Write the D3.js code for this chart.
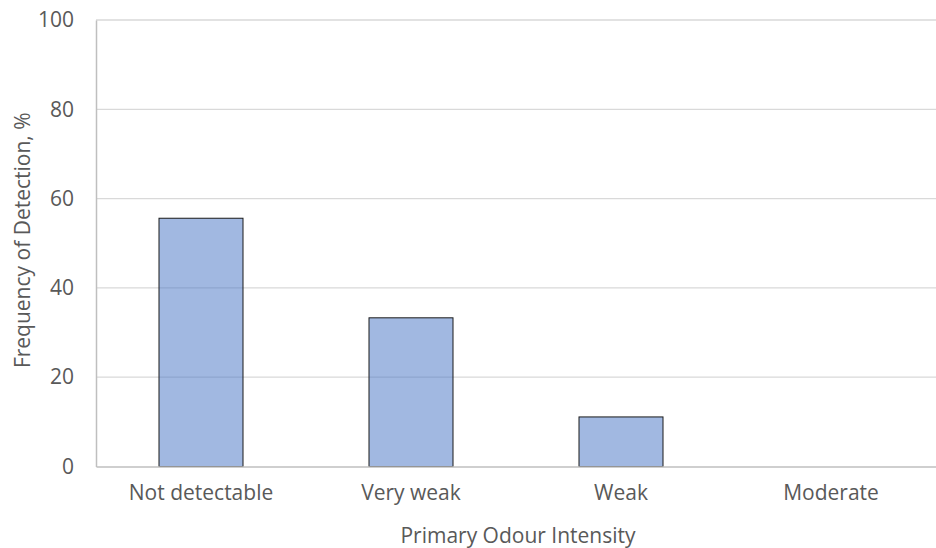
<!DOCTYPE html>
<html>
<head>
<meta charset="utf-8">
<script src="https://cdn.jsdelivr.net/npm/d3@7"></script>
<style>
  body { margin: 0; background: #fff; }
  svg { display: block; }
  svg text { font-family: "Open Sans", sans-serif; }
</style>
</head>
<body>
<svg id="chart" width="936" height="548"></svg>
<script>
// Share of detections per primary odour intensity class
const categories = ["Not detectable", "Very weak", "Weak", "Moderate"];
const frequency = [55.6, 33.3, 11.1, 0];
const yTicks = [0, 20, 40, 60, 80, 100];
const xTitle = "Primary Odour Intensity";
const yTitle = "Frequency of Detection, %";

const FONT = 21;
const TEXT = "#595959";

const svg = d3.select("#chart");
const margin = { top: 20, right: 0, bottom: 81.5, left: 96 };
const W = 936, H = 548;
const innerW = W - margin.left - margin.right;
const innerH = H - margin.top - margin.bottom;

const x = d3.scaleBand().domain(categories).range([0, innerW]).paddingInner(0.6).paddingOuter(0.3);
const y = d3.scaleLinear().domain([0, 100]).range([innerH, 0]);

const g = svg.append("g").attr("transform", `translate(${margin.left},${margin.top})`);

// horizontal gridlines
g.append("g")
  .selectAll("line")
  .data(yTicks.filter(d => d > 0))
  .join("line")
  .attr("x1", 0).attr("x2", innerW)
  .attr("y1", d => y(d)).attr("y2", d => y(d))
  .attr("stroke", "#d9d9d9").attr("stroke-width", 1.3);

// bars
g.append("g")
  .selectAll("rect")
  .data(categories.map((c, i) => ({ c, v: frequency[i] })).filter(d => d.v > 0))
  .join("rect")
  .attr("x", d => x(d.c))
  .attr("width", x.bandwidth())
  .attr("y", d => y(d.v))
  .attr("height", d => y(0) - y(d.v))
  .attr("fill", "#4472c4").attr("fill-opacity", 0.5)
  .attr("stroke", "#1a1a1a").attr("stroke-width", 1);

// y axis
const yAxis = g.append("g")
  .call(d3.axisLeft(y).tickValues(yTicks).tickSize(0).tickPadding(22));
yAxis.attr("font-family", null);
yAxis.select(".domain").attr("stroke", "#bfbfbf").attr("stroke-width", 1.5);
yAxis.selectAll("text").attr("fill", TEXT).attr("font-size", FONT);

// x axis
const xAxis = g.append("g")
  .attr("transform", `translate(0,${innerH})`)
  .call(d3.axisBottom(x).tickSize(0).tickPadding(19));
xAxis.attr("font-family", null);
xAxis.select(".domain").attr("stroke", "#bfbfbf").attr("stroke-width", 1.5);
xAxis.selectAll("text").attr("fill", TEXT).attr("font-size", FONT);

// axis titles
svg.append("text")
  .attr("x", margin.left + innerW / 2 + 2).attr("y", 543)
  .attr("text-anchor", "middle")
  .attr("fill", TEXT).attr("font-size", FONT)
  .text(xTitle);

svg.append("text")
  .attr("transform", `translate(30,${margin.top + innerH / 2 - 3}) rotate(-90)`)
  .attr("text-anchor", "middle")
  .attr("fill", TEXT).attr("font-size", FONT)
  .text(yTitle);
</script>
</body>
</html>
